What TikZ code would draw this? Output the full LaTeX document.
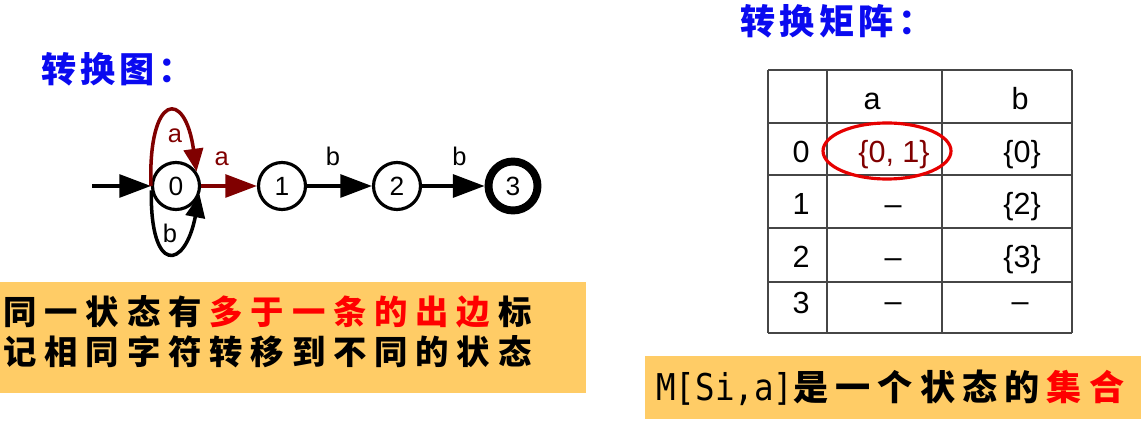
\documentclass[tikz,border=0pt]{standalone}
\usepackage{fontspec}
\setmainfont{Liberation Sans}
\newfontfamily\cjk{Noto Sans CJK SC}
\newfontfamily\monof{DejaVu Sans Mono}[FakeStretch=0.88]
\usetikzlibrary{arrows.meta}
\definecolor{darkred}{RGB}{128,0,0}
\definecolor{titleblue}{RGB}{10,10,240}
\definecolor{boxyellow}{RGB}{255,204,102}
\definecolor{ovalred}{RGB}{230,0,0}
\definecolor{gridgray}{RGB}{70,70,70}
\ExplSyntaxOn
\NewDocumentCommand\spaced{mm}{\tl_map_inline:nn {#2}{\makebox[#1][l]{##1}}}
\ExplSyntaxOff
\tikzset{
  state/.style={circle,draw=black,line width=1.8pt,minimum size=0.94cm,inner sep=0pt,font=\fontsize{15}{17}\selectfont},
  finalstate/.style={state,line width=4.5pt,minimum size=0.98cm},
  edge/.style={line width=2pt,-{Triangle[length=18pt,width=13pt]}},
  loopedge/.style={line width=2pt,-{Triangle[length=13pt,width=11pt]}},
  elab/.style={font=\fontsize{14.5}{16}\selectfont,inner sep=0pt,above=0.36cm},
  lab/.style={font=\fontsize{14.5}{16}\selectfont,inner sep=0pt},
  title/.style={font=\cjk\bfseries\fontsize{20}{22}\selectfont,text=titleblue,inner sep=0pt,anchor=west},
  boxtext/.style={font=\cjk\bfseries\fontsize{19}{22}\selectfont,inner sep=0pt,anchor=west},
  cell/.style={font=\fontsize{17.4}{20}\selectfont,inner sep=0pt,anchor=base},
  grid/.style={draw=gridgray,line width=0.6pt}
}
\begin{document}
\begin{tikzpicture}[x=0.02cm,y=-0.02cm]
\useasboundingbox (0,0) rectangle (1141,435);

% ---------- left: transition diagram ----------
\node[title] (t1) at (41,69) {\spaced{0.78cm}{转换图：}};

\node[state] (s0) at (176,186) {0};
\node[state] (s1) at (282,186) {1};
\node[state] (s2) at (397,186) {2};
\node[finalstate] (s3) at (513,186) {3};
\coordinate (init) at (92,186);

\draw[edge] (init) -- (s0);
\draw[edge,darkred] (s0) -- node[elab,pos=.37,text=darkred] {a} (s1);
\draw[edge] (s1) -- node[elab,pos=.4] {b} (s2);
\draw[edge] (s2) -- node[elab,pos=.6] {b} (s3);

\draw[loopedge,darkred] (s0.180) .. controls (148,93) and (185,88) .. (s0.35);
\node[lab,text=darkred] (la) at (175,136) {a};
\draw[loopedge] (s0.190) .. controls (150,275) and (185,270) .. (s0.-20);
\node[lab] (lb) at (170,233) {b};

% ---------- left note box ----------
\fill[boxyellow] (0,282) rectangle (586,393);
\node[boxtext] (n1) at (3,312) {\spaced{0.825cm}{同一状态有}\textcolor{red}{\spaced{0.825cm}{多于一条的出边}}\spaced{0.825cm}{标}};
\node[boxtext] (n2) at (3,352) {\spaced{0.825cm}{记相同字符转移到不同的状态}};

% ---------- right: transition matrix ----------
\node[title] (t2) at (740,21) {\spaced{0.79cm}{转换矩阵：}};

\foreach \yy in {70,123,175,228,282,333} \draw[grid] (768,\yy) -- (1072,\yy);
\foreach \xx in {768,827,942,1072} \draw[grid] (\xx,70) -- (\xx,333);

\node[cell] (ha) at (872,110) {a};
\node[cell] (hb) at (1020,110) {b};

\node[cell] (r0) at (801,163) {0};
\node[cell,text=darkred] (c0a) at (894,163) {\{0, 1\}};
\node[cell] (c0b) at (1022,163) {\{0\}};

\node[cell] (r1) at (801,215) {1};
\node[cell] (c1a) at (893,215) {–};
\node[cell] (c1b) at (1022,215) {\{2\}};

\node[cell] (r2) at (801,268) {2};
\node[cell] (c2a) at (893,268) {–};
\node[cell] (c2b) at (1022,268) {\{3\}};

\node[cell] (r3) at (801,313) {3};
\node[cell] (c3a) at (893,311) {–};
\node[cell] (c3b) at (1020,311) {–};

\draw[ovalred,line width=1.8pt] (887,151) ellipse [x radius=64, y radius=28];

% ---------- right note box ----------
\fill[boxyellow] (645,356) rectangle (1141,419);
\node[inner sep=0pt,anchor=west] (n3) at (656,388)
  {{\monof\fontsize{21}{24}\selectfont M[Si,a]}{\cjk\bfseries\fontsize{20}{22}\selectfont\spaced{0.846cm}{是一个状态的}\textcolor{red}{\spaced{0.846cm}{集合}}}};
\end{tikzpicture}
\end{document}
